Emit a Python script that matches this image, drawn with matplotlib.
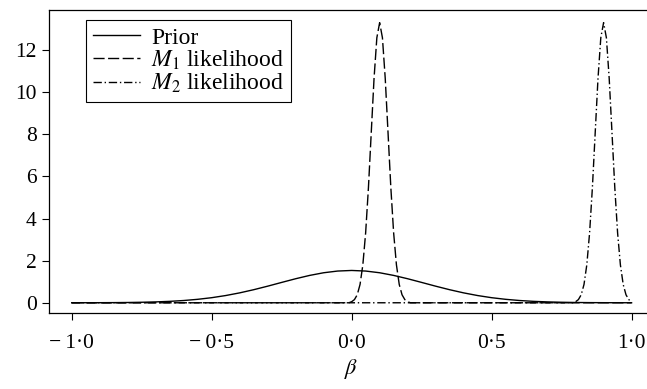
import matplotlib
matplotlib.use("Agg")
from matplotlib import pyplot as plt

plt.rcParams['font.family'] = ['Liberation Serif', 'DejaVu Serif']
plt.rcParams['mathtext.fontset'] = 'stix'

# prior density
prior_x = [-1.0, -0.95, -0.9, -0.85, -0.8, -0.75, -0.7, -0.65, -0.6, -0.55, -0.5,
           -0.45, -0.4, -0.35, -0.3, -0.25, -0.2, -0.15, -0.1, -0.05, 0.0,
           0.05, 0.1, 0.15, 0.2, 0.25, 0.3, 0.35, 0.4, 0.45, 0.5,
           0.55, 0.6, 0.65, 0.7, 0.75, 0.8, 0.85, 0.9, 0.95, 1.0]
prior_y = [0.001, 0.002, 0.004, 0.007, 0.013, 0.024, 0.041, 0.067, 0.107, 0.164, 0.241,
           0.343, 0.470, 0.620, 0.788, 0.966, 1.141, 1.299, 1.425, 1.506, 1.534,
           1.506, 1.425, 1.299, 1.141, 0.966, 0.788, 0.620, 0.470, 0.343, 0.241,
           0.164, 0.107, 0.067, 0.041, 0.024, 0.013, 0.007, 0.004, 0.002, 0.001]

# M1 likelihood (peak near 0.1)
m1_x = [-1.0, -0.01, 0.0, 0.01, 0.02, 0.03, 0.04, 0.05, 0.06, 0.07, 0.08, 0.09, 0.1,
        0.11, 0.12, 0.13, 0.14, 0.15, 0.16, 0.17, 0.18, 0.19, 0.2, 0.21, 1.0]
m1_y = [0, 0, 0.05, 0.15, 0.38, 0.87, 1.80, 3.32, 5.47, 8.07, 10.65, 12.58, 13.3,
        12.58, 10.65, 8.07, 5.47, 3.32, 1.80, 0.87, 0.38, 0.15, 0.05, 0, 0]

# M2 likelihood (peak near 0.9)
m2_x = [-1.0, 0.79, 0.8, 0.81, 0.82, 0.83, 0.84, 0.85, 0.86, 0.87, 0.88, 0.89, 0.9,
        0.91, 0.92, 0.93, 0.94, 0.95, 0.96, 0.97, 0.98, 0.99, 1.0]
m2_y = [0, 0, 0.05, 0.15, 0.38, 0.87, 1.80, 3.32, 5.47, 8.07, 10.65, 12.58, 13.3,
        12.58, 10.65, 8.07, 5.47, 3.32, 1.80, 0.87, 0.38, 0.15, 0.05]

xticks = [-1.0, -0.5, 0.0, 0.5, 1.0]
xticklabels = ['\u2212\u20091\u00b70', '\u2212\u20090\u00b75', '0\u00b70', '0\u00b75', '1\u00b70']
yticks = [0, 2, 4, 6, 8, 10, 12]

fig = plt.figure(figsize=(6.47, 3.89), dpi=100)
ax = fig.add_axes([0.0762, 0.1946, 0.9346, 0.7797])

lw = 1.0
ax.plot(prior_x, prior_y, color='black', lw=lw, ls='-', label='Prior')
ax.plot(m1_x, m1_y, color='black', lw=lw, dashes=(8, 2.5), label='$M_1$ likelihood')
ax.plot(m2_x, m2_y, color='black', lw=lw, dashes=(6, 2, 1, 2), label='$M_2$ likelihood')

ax.set_xlim(-1.08, 1.08)
ax.set_ylim(-0.5, 13.9)
ax.set_xticks(xticks)
ax.set_xticklabels(xticklabels)
ax.set_yticks(yticks)
ax.tick_params(axis='both', labelsize=15.5, length=5, width=0.8, direction='out')
ax.tick_params(axis='x', pad=10)
ax.tick_params(axis='y', pad=4)
for sp in ax.spines.values():
    sp.set_linewidth(0.9)
ax.set_xlabel(r'$\beta$', fontsize=16, labelpad=3)

leg = ax.legend(loc='upper left', bbox_to_anchor=(0.0607, 0.967), borderaxespad=0,
                fontsize=17, frameon=True, fancybox=False, framealpha=1,
                edgecolor='black', handlelength=2.0, handletextpad=0.45,
                labelspacing=0.0, borderpad=0.3)
leg.get_frame().set_linewidth(0.8)

fig.savefig('out.png', dpi=100)
